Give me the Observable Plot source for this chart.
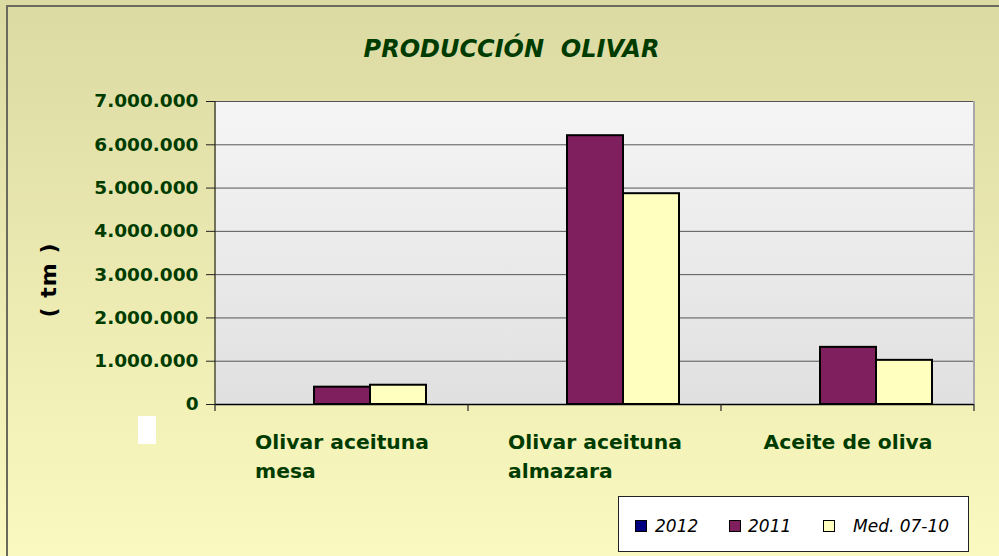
<!DOCTYPE html>
<html>
<head>
<meta charset="utf-8">
<script src="https://cdn.jsdelivr.net/npm/d3@7"></script>
<script src="https://cdn.jsdelivr.net/npm/@observablehq/plot@0.6"></script>
<style>
  body { margin: 0; background: #fff; }
  #chart {
    position: relative; width: 999px; height: 556px; overflow: hidden;
    background: linear-gradient(to bottom, #dcdaa3 0%, #faf9bf 100%);
    font-family: "DejaVu Sans", sans-serif;
  }
  #outer { position: absolute; left: 6px; top: 5px; width: 1100px; height: 700px;
    border-left: 2px solid #6b6a5e; border-top: 2px solid #6b6a5e; }
  #title { position: absolute; left: 0; top: 37px; width: 1023px; text-align: center;
    font: italic bold 24px/1 "DejaVu Sans", sans-serif; color: #003c00; white-space: pre; }
  #ylabel { position: absolute; left: 49px; top: 280px; transform: translate(-50%,-50%) rotate(-90deg);
    font: bold 22px/1 "DejaVu Sans", sans-serif; color: #000; white-space: pre; letter-spacing: 1px; }
  #blank { position: absolute; left: 138px; top: 416px; width: 18px; height: 28px; background: #fff; }
  #legend { position: absolute; left: 618px; top: 496px; width: 349px; height: 54px;
    background: #fff; border: 1px solid #222; }
  .sw { position: absolute; top: 23px; width: 10px; height: 10px; border: 1.5px solid #000; }
  .lt { position: absolute; top: 21px; font: italic 17px/1 "DejaVu Sans", sans-serif; color: #000; white-space: pre; }
  svg { position: absolute; left: 0; top: 0; }
</style>
</head>
<body>
<svg width="0" height="0" style="position:absolute">
  <defs>
    <linearGradient id="plotGrad" x1="0" y1="0" x2="0" y2="1">
      <stop offset="0" stop-color="#f5f5f5"/>
      <stop offset="1" stop-color="#e0e0e0"/>
    </linearGradient>
  </defs>
</svg>
<div id="chart">
  <div id="outer"></div>
  <div id="title">PRODUCCIÓN  OLIVAR</div>
  <div id="ylabel">( tm )</div>
  <div id="blank"></div>
  <div id="legend"></div>
</div>
<script>
// ---- data ----
const categories = ["Olivar aceituna mesa", "Olivar aceituna almazara", "Aceite de oliva"];
const categoryLabels = ["Olivar aceituna\nmesa", "Olivar aceituna\nalmazara", "Aceite de oliva"];
const series = ["2012", "2011", "Med. 07-10"];
const values2012 = [0, 0, 0];
const values2011 = [400000, 6210000, 1320000];
const valuesMed = [445000, 4870000, 1020000];
const seriesColors = ["#000080", "#801f5e", "#ffffc0"];
const yTicks = [0, 1000000, 2000000, 3000000, 4000000, 5000000, 6000000, 7000000];

const seriesValues = [values2012, values2011, valuesMed];
const rows = [];
categories.forEach((c, i) => series.forEach((s, j) => rows.push({cat: c, series: s, value: seriesValues[j][i]})));

const fmt = d3.formatLocale({decimal: ",", thousands: ".", grouping: [3], currency: ["", "€"]}).format(",d");
const green = "#003c00";

const plot = Plot.plot({
  width: 999, height: 556,
  marginTop: 101, marginBottom: 152, marginLeft: 214, marginRight: 24,
  style: {background: "transparent", overflow: "visible", fontFamily: "DejaVu Sans"},
  fx: {domain: categories, padding: 0, axis: null},
  x: {domain: series, paddingInner: 0, paddingOuter: 0.74, axis: null},
  y: {domain: [0, 7000000], axis: null},
  color: {domain: series, range: seriesColors},
  marks: [
    Plot.frame({fill: "url(#plotGrad)", stroke: "none", shapeRendering: "crispEdges"}),
    Plot.gridY(yTicks, {stroke: "#555", strokeOpacity: 1, strokeWidth: 1}),
    Plot.barY(rows, {fx: "cat", x: "series", y: "value", fill: "series", stroke: "#000", strokeWidth: 2}),
    Plot.ruleY([0], {stroke: "#000", strokeWidth: 1.5}),
    Plot.axisY(yTicks, {tickSize: 9, tickPadding: 8, tickFormat: fmt, fontSize: 18.5, fontWeight: "bold",
      fill: green, stroke: "#222", label: null}),
    Plot.text(categories, {fx: d => d, text: (d, i) => categoryLabels[i], frameAnchor: "bottom",
      textAnchor: "start", lineAnchor: "top", dy: 24, lineHeight: 1.42, fontSize: 20.3,
      fontWeight: "bold", fill: green, className: "xlab"})
  ]
});

const chart = document.getElementById("chart");
chart.insertBefore(plot, document.getElementById("legend"));

// decorations using the plot's own scales
const fx = plot.scale("fx");
const y = plot.scale("y");
const y0 = y.apply(0), yTop = y.apply(7000000);
const bounds = categories.map(c => fx.apply(c));
bounds.push(fx.apply(categories[categories.length - 1]) + fx.bandwidth);
const svg = d3.select(plot);
const g = svg.append("g");
g.append("line").attr("x1", bounds[3]).attr("x2", bounds[3]).attr("y1", yTop).attr("y2", y0)
  .attr("stroke", "#a8a8a8").attr("stroke-width", 2);
g.append("line").attr("x1", bounds[0]).attr("x2", bounds[0]).attr("y1", yTop).attr("y2", y0)
  .attr("stroke", "#222").attr("stroke-width", 1.2);
bounds.forEach(b => g.append("line").attr("x1", b).attr("x2", b).attr("y1", y0).attr("y2", y0 + 7)
  .attr("stroke", "#222").attr("stroke-width", 1.2));

// left-align wrapped category labels, block centred on band
svg.selectAll(".xlab text").each(function () {
  const w = this.getBBox().width;
  const t = this.getAttribute("transform") || "";
  this.setAttribute("transform", t + ` translate(${-w / 2},0)`);
});

// legend
const legend = d3.select("#legend");
const swLeft = [16, 110, 204], txtLeft = [36, 129, 234];
series.forEach((s, i) => {
  legend.append("div").attr("class", "sw").style("left", swLeft[i] + "px").style("background", seriesColors[i]);
  legend.append("div").attr("class", "lt").style("left", txtLeft[i] + "px").text(s);
});
</script>
</body>
</html>
